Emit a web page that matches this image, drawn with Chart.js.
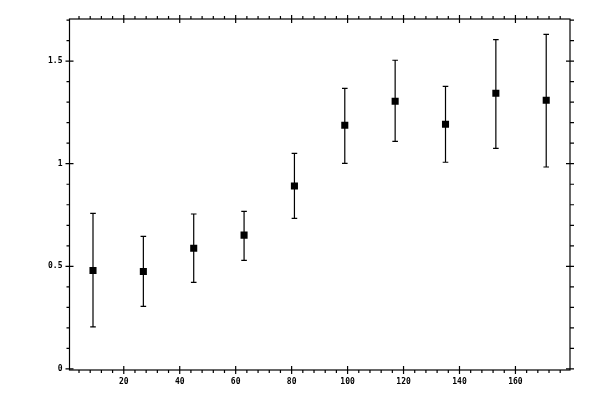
<!DOCTYPE html>
<html>
<head>
<meta charset="utf-8">
<title>Scatter with error bars</title>
<script src="https://cdn.jsdelivr.net/npm/chart.js@4.4.0/dist/chart.umd.min.js"></script>
<style>
  html, body { margin: 0; padding: 0; background: #fff; }
  #wrap { width: 600px; height: 400px; }
</style>
</head>
<body>
<div id="wrap"><canvas id="chart" width="600" height="400"></canvas></div>
<script>
// ─── Data ─────────────────────────────────────────────────────────────────────

const X_VALUES = [9, 27, 45, 63, 81, 99, 117, 135, 153, 171];
const Y_VALUES = [0.48, 0.475, 0.588, 0.652, 0.891, 1.187, 1.304, 1.192, 1.343, 1.309];
const Y_UPPER = [0.758, 0.646, 0.755, 0.768, 1.05, 1.367, 1.504, 1.377, 1.605, 1.63];
const Y_LOWER = [0.205, 0.305, 0.422, 0.529, 0.734, 1.002, 1.109, 1.007, 1.075, 0.984];

const X_TICKS = [20, 40, 60, 80, 100, 120, 140, 160];
const Y_TICKS = [0, 0.5, 1, 1.5];

const X_MINOR_STEP = 4;
const Y_MINOR_STEP = 0.1;

const X_RANGE = [0.6, 179.5];
const Y_RANGE = [-0.005, 1.705];

const INK = '#000';
const FONT = { family: '"DejaVu Sans Mono", monospace', size: 8, weight: 'bold' };

// ─── Plugins ──────────────────────────────────────────────────────────────────

// vertical error bars with small caps, drawn under the markers
const errorBars = {
  id: 'errorBars',
  beforeDatasetsDraw(chart) {
    const { ctx, scales: { x, y } } = chart;
    ctx.save();
    ctx.strokeStyle = INK;
    ctx.lineWidth = 1.2;
    X_VALUES.forEach((xv, i) => {
      const px = x.getPixelForValue(xv);
      const top = y.getPixelForValue(Y_UPPER[i]);
      const bot = y.getPixelForValue(Y_LOWER[i]);
      ctx.beginPath();
      ctx.moveTo(px, top);
      ctx.lineTo(px, bot);
      ctx.moveTo(px - 2.8, top);
      ctx.lineTo(px + 2.8, top);
      ctx.moveTo(px - 2.8, bot);
      ctx.lineTo(px + 2.8, bot);
      ctx.stroke();
    });
    ctx.restore();
  },
};

function minorValues(min, max, step, majors) {
  const out = [];
  for (let k = Math.ceil(min / step); k * step <= max + 1e-9; k++) {
    const v = +(k * step).toFixed(6);
    if (!majors.some(m => Math.abs(m - v) < 1e-6)) out.push(v);
  }
  return out;
}

// box frame with ticks on all four sides: majors cross the frame, minors sit outside
const frameTicks = {
  id: 'frameTicks',
  afterDraw(chart) {
    const { ctx, chartArea: a, scales: { x, y } } = chart;
    const MAJ = 4, MIN = 3;
    ctx.save();
    ctx.strokeStyle = INK;
    ctx.lineWidth = 1.2;
    ctx.strokeRect(a.left, a.top, a.right - a.left, a.bottom - a.top);

    ctx.beginPath();
    X_TICKS.forEach(v => {
      const px = x.getPixelForValue(v);
      ctx.moveTo(px, a.bottom - MAJ); ctx.lineTo(px, a.bottom + MAJ);
      ctx.moveTo(px, a.top - MAJ); ctx.lineTo(px, a.top + MAJ);
    });
    minorValues(X_RANGE[0], X_RANGE[1], X_MINOR_STEP, X_TICKS).forEach(v => {
      const px = x.getPixelForValue(v);
      ctx.moveTo(px, a.bottom); ctx.lineTo(px, a.bottom + MIN);
      ctx.moveTo(px, a.top); ctx.lineTo(px, a.top - MIN);
    });
    Y_TICKS.forEach(v => {
      const py = y.getPixelForValue(v);
      ctx.moveTo(a.left - MAJ, py); ctx.lineTo(a.left + MAJ, py);
      ctx.moveTo(a.right - MAJ, py); ctx.lineTo(a.right + MAJ, py);
    });
    minorValues(0, Y_RANGE[1], Y_MINOR_STEP, Y_TICKS).forEach(v => {
      const py = y.getPixelForValue(v);
      ctx.moveTo(a.left - MIN, py); ctx.lineTo(a.left, py);
      ctx.moveTo(a.right, py); ctx.lineTo(a.right + MIN + 1, py);
    });
    ctx.stroke();
    ctx.restore();
  },
};

// ─── Chart ────────────────────────────────────────────────────────────────────

const points = X_VALUES.map((xv, i) => ({ x: xv, y: Y_VALUES[i] }));

new Chart(document.getElementById('chart'), {
  type: 'scatter',
  data: {
    datasets: [{
      data: points,
      pointStyle: 'rect',
      pointRadius: 5,
      pointBackgroundColor: INK,
      pointBorderColor: INK,
      pointBorderWidth: 0,
    }],
  },
  options: {
    responsive: false,
    animation: false,
    events: [],
    layout: { padding: { top: 19, right: 30, left: 0, bottom: 0 } },
    plugins: { legend: { display: false }, tooltip: { enabled: false } },
    scales: {
      x: {
        type: 'linear',
        min: X_RANGE[0],
        max: X_RANGE[1],
        border: { display: false },
        grid: { display: false, drawTicks: false },
        afterBuildTicks: s => { s.ticks = X_TICKS.map(v => ({ value: v })); },
        afterFit: s => { s.height = 30; },
        ticks: { color: INK, font: FONT, padding: 7, maxRotation: 0, autoSkip: false,
                 callback: v => String(v) },
      },
      y: {
        type: 'linear',
        min: Y_RANGE[0],
        max: Y_RANGE[1],
        border: { display: false },
        grid: { display: false, drawTicks: false },
        afterBuildTicks: s => { s.ticks = Y_TICKS.map(v => ({ value: v })); },
        afterFit: s => { s.width = 69.5; },
        ticks: { color: INK, font: FONT, padding: 7, autoSkip: false,
                 callback: v => String(v) },
      },
    },
  },
  plugins: [errorBars, frameTicks],
});
</script>
</body>
</html>
